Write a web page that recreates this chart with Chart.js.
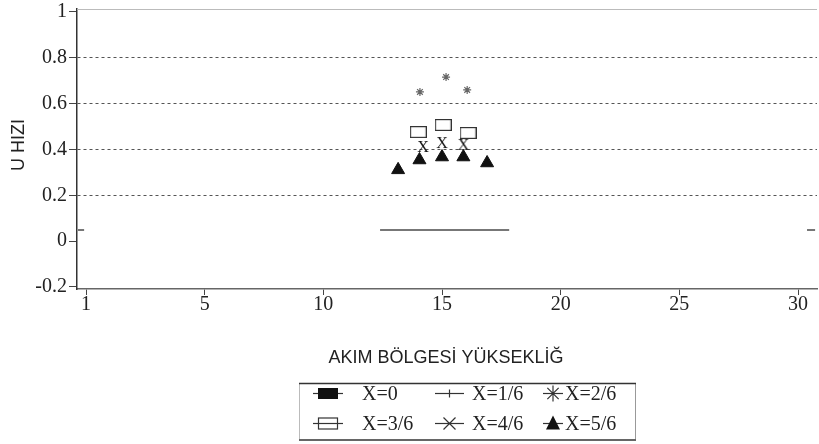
<!DOCTYPE html>
<html>
<head>
<meta charset="utf-8">
<script src="https://cdn.jsdelivr.net/npm/chart.js@4/dist/chart.umd.min.js"></script>
<style>
  html, body { margin: 0; padding: 0; background: #fff; }
  #wrap { width: 819px; height: 444px; position: relative; }
</style>
</head>
<body>
<div id="wrap"><canvas id="chart"></canvas></div>
<script>
// axis ticks (the first x tick sits at 0 but is labelled "1")
const xTickValues = [0, 5, 10, 15, 20, 25, 30];
const xTickLabels = ['1', '5', '10', '15', '20', '25', '30'];
const yTickValues = [-0.2, 0, 0.2, 0.4, 0.6, 0.8, 1];
const yGridValues = [0.2, 0.4, 0.6, 0.8];

const seriesNames = ['X=0', 'X=1/6', 'X=2/6', 'X=3/6', 'X=4/6', 'X=5/6'];

// X=0 has no visible points
const x0X = [];
const x0Y = [];
// X=1/6 : flat line pieces (null = gap)
const x16X = [-0.34, -0.08, 6, 12.39, 17.83, 24, 30.38, 30.72];
const x16Y = [0.049, 0.049, null, 0.049, 0.049, null, 0.049, 0.049];
// X=2/6 : asterisks
const x26X = [14.07, 15.17, 16.06];
const x26Y = [0.651, 0.716, 0.660];
// X=3/6 : open rectangles
const x36X = [14.0, 15.05, 16.1];
const x36Y = [0.476, 0.507, 0.472];
// X=4/6 : "x" marks
const x46X = [14.2, 15.0, 15.9];
const x46Y = [0.411, 0.428, 0.420];
// X=5/6 : triangles
const x56X = [13.15, 14.05, 15.0, 15.9, 16.9];
const x56Y = [0.311, 0.354, 0.367, 0.367, 0.341];

function pts(xs, ys) {
    return xs.map((x, i) => ({ x: x, y: ys[i] }));
}

// small canvases used as point styles
function rectIcon() {
    const c = document.createElement('canvas');
    c.width = 17; c.height = 12;
    const g = c.getContext('2d');
    g.fillStyle = '#fff';
    g.fillRect(0, 0, 17, 12);
    g.strokeStyle = '#333';
    g.lineWidth = 1.2;
    g.strokeRect(0.6, 0.6, 15.8, 10.8);
    return c;
}
function letterIcon() {
    const c = document.createElement('canvas');
    c.width = 14; c.height = 16;
    const g = c.getContext('2d');
    g.fillStyle = '#111';
    g.font = '16px "Liberation Serif"';
    g.textAlign = 'center';
    g.textBaseline = 'middle';
    g.fillText('X', 7, 8.5);
    return c;
}

const serif = '"Liberation Serif", "DejaVu Serif", serif';
const sans = '"Liberation Sans", Arial, sans-serif';

// titles, frame top line and the boxed legend
const decor = {
    id: 'decor',
    afterDraw(chart) {
        const ctx = chart.ctx;
        const a = chart.chartArea;
        ctx.save();

        // light top frame line
        ctx.strokeStyle = '#bbb';
        ctx.lineWidth = 1;
        ctx.beginPath();
        ctx.moveTo(a.left, a.top + 0.5);
        ctx.lineTo(a.right, a.top + 0.5);
        ctx.stroke();

        // axis titles
        ctx.fillStyle = '#222';
        ctx.font = '18px ' + sans;
        ctx.textAlign = 'center';
        ctx.textBaseline = 'middle';
        ctx.fillText('AKIM BÖLGESİ YÜKSEKLİĞ', 446, 358);
        ctx.save();
        ctx.translate(19, 145);
        ctx.rotate(-Math.PI / 2);
        ctx.fillText('U HIZI', 0, 0);
        ctx.restore();

        // legend box
        ctx.lineWidth = 1;
        ctx.strokeStyle = '#bbb';
        ctx.beginPath();
        ctx.moveTo(299.5, 383); ctx.lineTo(299.5, 440);
        ctx.stroke();
        ctx.strokeStyle = '#999';
        ctx.beginPath();
        ctx.moveTo(635.5, 383); ctx.lineTo(635.5, 440);
        ctx.stroke();
        ctx.strokeStyle = '#333';
        ctx.lineWidth = 1.3;
        ctx.beginPath();
        ctx.moveTo(299, 383.5); ctx.lineTo(636, 383.5);
        ctx.stroke();
        ctx.strokeStyle = '#666';
        ctx.lineWidth = 2;
        ctx.beginPath();
        ctx.moveTo(299, 440); ctx.lineTo(636, 440);
        ctx.stroke();

        const cols = [{ l: 313, r: 343, t: 362 }, { l: 435, r: 464, t: 472 }, { l: 543, r: 563, t: 565 }];
        const rows = [393.5, 423.5];
        ctx.font = '20px ' + serif;
        ctx.textAlign = 'left';
        ctx.textBaseline = 'middle';
        ctx.fillStyle = '#222';
        seriesNames.forEach((name, i) => {
            const col = cols[i % 3];
            const y = rows[Math.floor(i / 3)];
            const cx = (col.l + col.r) / 2;
            ctx.strokeStyle = '#333';
            ctx.lineWidth = 1.2;
            ctx.beginPath();
            ctx.moveTo(col.l, y); ctx.lineTo(col.r, y);
            ctx.stroke();
            if (i === 0) {
                ctx.fillStyle = '#111';
                ctx.fillRect(cx - 10, y - 5.5, 20, 11);
            } else if (i === 1) {
                ctx.beginPath();
                ctx.moveTo(cx, y - 4); ctx.lineTo(cx, y + 4);
                ctx.stroke();
            } else if (i === 2) {
                ctx.beginPath();
                for (let k = 0; k < 4; k++) {
                    const ang = k * Math.PI / 4;
                    const r = k === 0 ? 10 : 8;
                    ctx.moveTo(cx - r * Math.cos(ang), y - r * Math.sin(ang));
                    ctx.lineTo(cx + r * Math.cos(ang), y + r * Math.sin(ang));
                }
                ctx.stroke();
            } else if (i === 3) {
                ctx.strokeRect(cx - 9.5, y - 5.5, 19, 11);
            } else if (i === 4) {
                ctx.beginPath();
                ctx.moveTo(cx - 6, y - 6); ctx.lineTo(cx + 6, y + 6);
                ctx.moveTo(cx - 6, y + 6); ctx.lineTo(cx + 6, y - 6);
                ctx.stroke();
            } else {
                ctx.fillStyle = '#111';
                ctx.beginPath();
                ctx.moveTo(cx, y - 8); ctx.lineTo(cx + 7, y + 6); ctx.lineTo(cx - 7, y + 6);
                ctx.closePath();
                ctx.fill();
            }
            ctx.fillStyle = '#222';
            ctx.fillText(name, col.t, y + 1);
        });
        ctx.restore();
    }
};

new Chart(document.getElementById('chart'), {
    type: 'scatter',
    data: {
        datasets: [
            { label: seriesNames[0], data: pts(x0X, x0Y), pointStyle: 'rect', backgroundColor: '#111', pointRadius: 6 },
            { label: seriesNames[1], data: pts(x16X, x16Y), showLine: true, spanGaps: false, borderColor: '#777', borderWidth: 2, pointRadius: 0 },
            { label: seriesNames[2], data: pts(x26X, x26Y), pointStyle: 'star', pointRadius: 4, borderColor: '#666', borderWidth: 1.2, backgroundColor: '#666' },
            { label: seriesNames[3], data: pts(x36X, x36Y), pointStyle: rectIcon() },
            { label: seriesNames[4], data: pts(x46X, x46Y), pointStyle: letterIcon() },
            { label: seriesNames[5], data: pts(x56X, x56Y), pointStyle: 'triangle', pointRadius: 7.5, backgroundColor: '#111', borderColor: '#111', borderWidth: 1 }
        ]
    },
    options: {
        responsive: true,
        maintainAspectRatio: false,
        animation: false,
        layout: { autoPadding: false, padding: { top: 9, right: 2, left: 0, bottom: 0 } },
        plugins: { legend: { display: false }, tooltip: { enabled: false } },
        scales: {
            x: {
                type: 'linear',
                min: -0.38,
                max: 30.8,
                afterBuildTicks: (s) => { s.ticks = xTickValues.map(v => ({ value: v })); },
                afterFit: (s) => { s.height = 155; s.paddingLeft = 0; s.paddingRight = 0; },
                grid: { drawOnChartArea: false, drawTicks: true, tickLength: 6, tickColor: '#444', tickWidth: 1 },
                border: { color: '#666', width: 1.5 },
                ticks: {
                    padding: -2,
                    maxRotation: 0,
                    autoSkip: false,
                    color: '#222',
                    font: { family: serif, size: 20 },
                    callback: (v) => xTickLabels[xTickValues.indexOf(v)]
                }
            },
            y: {
                min: -0.209,
                max: 1.013,
                afterBuildTicks: (s) => { s.ticks = yTickValues.map(v => ({ value: v })); },
                afterFit: (s) => { s.width = 77; s.paddingTop = 0; s.paddingBottom = 0; },
                grid: {
                    color: (c) => (c.tick && yGridValues.includes(c.tick.value)) ? '#555' : 'rgba(0,0,0,0)',
                    lineWidth: 1,
                    tickLength: 8,
                    tickColor: '#444',
                    tickBorderDash: []
                },
                border: { color: '#333', width: 1.5, dash: [3, 3] },
                ticks: {
                    padding: 2,
                    color: '#222',
                    font: { family: serif, size: 20 },
                    callback: (v) => String(v)
                }
            }
        }
    },
    plugins: [decor]
});
</script>
</body>
</html>
